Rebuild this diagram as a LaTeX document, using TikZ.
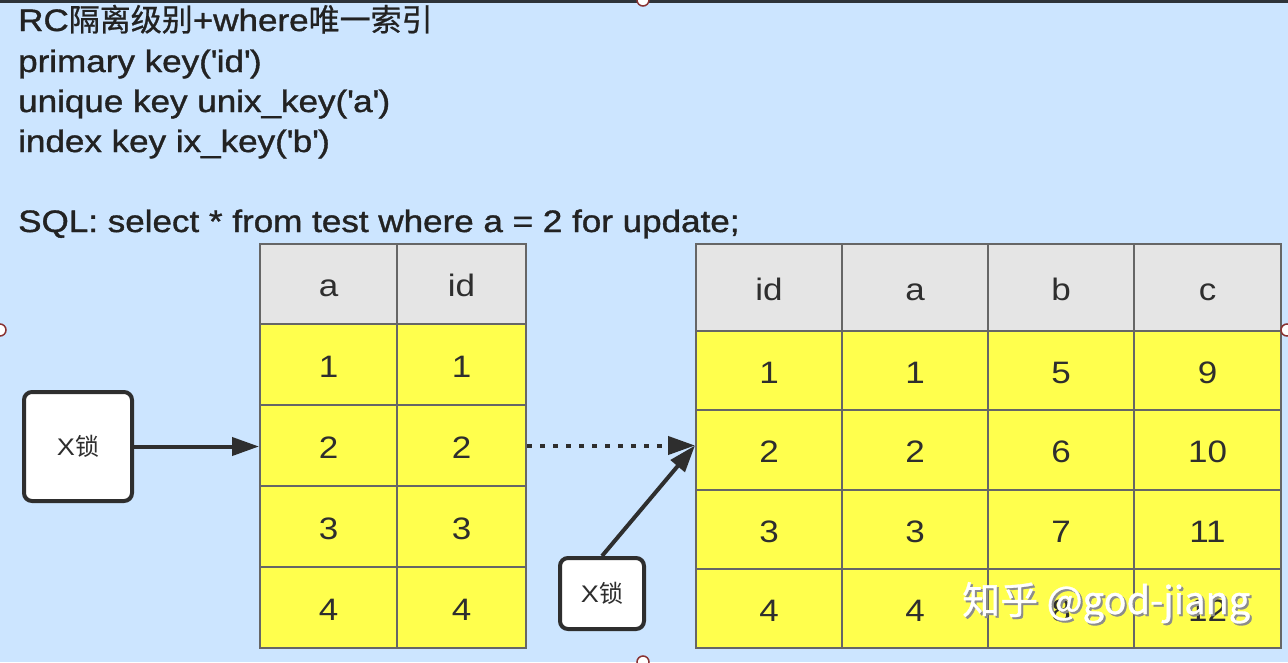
\documentclass[tikz,border=0pt]{standalone}
\usepackage{fontspec}
\setmainfont[FakeStretch=1.13]{Liberation Sans}
\newfontfamily\titlefont[FakeStretch=1.13,FakeBold=1.2]{Liberation Sans}
\newfontfamily\cjk{Noto Sans CJK SC}
\newfontfamily\cjkb[FakeBold=0.8]{Noto Sans CJK SC}
\usetikzlibrary{arrows.meta}
\definecolor{bg}{HTML}{CCE5FF}
\definecolor{hdr}{HTML}{E5E5E5}
\definecolor{ylw}{HTML}{FFFF4D}
\definecolor{grid}{HTML}{666666}
\definecolor{ink}{HTML}{2E2E2E}
\definecolor{txt}{HTML}{222222}
\definecolor{topband}{HTML}{2D3339}
\definecolor{handle}{HTML}{8A3333}
\tikzset{
  cell/.style={draw=grid, line width=2pt, inner sep=0pt, text=ink,
    text height=25pt, text depth=0pt,
    font=\fontsize{31}{31}\selectfont},
  lockbox/.style={draw=ink, fill=white, line width=4pt, rounded corners=8pt,
    inner sep=0pt, text=ink, font=\fontsize{24}{24}\selectfont},
  title/.style={anchor=base west, inner sep=0pt, text=txt,
    font=\titlefont\fontsize{31}{31}\selectfont},
  arr/.style={draw=ink, line width=4pt, -{Triangle[length=27pt,width=18pt]}},
  dotarr/.style={draw=ink, line width=4pt, dash pattern=on 5pt off 8pt,
    -{Triangle[length=27pt,width=18pt]}},
  hnd/.style={circle, draw=handle, fill=white, line width=1.5pt,
    minimum size=12pt, inner sep=0pt},
}
\begin{document}
\begin{tikzpicture}[x=1pt,y=-1pt]
\useasboundingbox (0,0) rectangle (1288,662);
\fill[bg] (0,0) rectangle (1288,662);
\fill[topband] (0,0) rectangle (1288,3);

% title text
\node[title] (t1) at (18,31) {RC{\cjkb 隔离级别}+where{\cjkb 唯一索引}};
\node[title] (t2) at (18,72) {primary key(\textquotesingle id\textquotesingle)};
\node[title] (t3) at (18,112) {unique key unix\_key(\textquotesingle a\textquotesingle)};
\node[title] (t4) at (18,152) {index key ix\_key(\textquotesingle b\textquotesingle)};
\node[title] (t5) at (18,232) {SQL: select * from test where a = 2 for update;};

% left table
\foreach \r/\ya/\yb/\f/\ta/\tb in {0/244/324/hdr/a/id, 1/324/405/ylw/1/1,
    2/405/486/ylw/2/2, 3/486/567/ylw/3/3, 4/567/648/ylw/4/4}{
  \node[cell, fill=\f, minimum width=137pt, minimum height={(\yb-\ya)*1pt}]
    (L-\r-1) at (328.5,{(\ya+\yb)/2}) {\ta};
  \node[cell, fill=\f, minimum width=129pt, minimum height={(\yb-\ya)*1pt}]
    (L-\r-2) at (461.5,{(\ya+\yb)/2}) {\tb};
}

% right table
\foreach \r/\ya/\yb/\f/\ta/\tb/\tc/\td in {0/244/331/hdr/id/a/b/c,
    1/331/410/ylw/1/1/5/9, 2/410/490/ylw/2/2/6/10,
    3/490/569/ylw/3/3/7/11, 4/569/648/ylw/4/4/8/12}{
  \node[cell, fill=\f, minimum width=146pt, minimum height={(\yb-\ya)*1pt}]
    (R-\r-1) at (769,{(\ya+\yb)/2}) {\ta};
  \node[cell, fill=\f, minimum width=146pt, minimum height={(\yb-\ya)*1pt}]
    (R-\r-2) at (915,{(\ya+\yb)/2}) {\tb};
  \node[cell, fill=\f, minimum width=146pt, minimum height={(\yb-\ya)*1pt}]
    (R-\r-3) at (1061,{(\ya+\yb)/2}) {\tc};
  \node[cell, fill=\f, minimum width=147pt, minimum height={(\yb-\ya)*1pt}]
    (R-\r-4) at (1207.5,{(\ya+\yb)/2}) {\td};
}

% lock boxes
\node[lockbox, minimum width=108pt, minimum height=109pt] (x1) at (78,446.5) {X{\cjk 锁}};
\node[lockbox, minimum width=84pt, minimum height=71pt] (x2) at (602,593.5) {X{\cjk 锁}};

% connectors
\draw[arr] (x1.east) -- (x1.east -| L-2-1.west);
\draw[dotarr] (L-2-2.east) -- (L-2-2.east -| R-2-1.west);
\draw[arr] (x2.north) -- (L-2-2.east -| R-2-1.west);

% watermark
\node[anchor=base west, inner sep=0pt, text=black!45, font=\cjkb\fontsize{38}{38}\selectfont]
  (wms) at (964,616) {知乎 @god-jiang};
\node[anchor=base west, inner sep=0pt, text=white, font=\cjkb\fontsize{38}{38}\selectfont]
  (wm) at (962,614) {知乎 @god-jiang};

% selection handles
\node[hnd] (h1) at (643,0) {};
\node[hnd] (h2) at (0,330) {};
\node[hnd] (h3) at (1287,330) {};
\node[hnd] (h4) at (643,662) {};
\end{tikzpicture}
\end{document}
